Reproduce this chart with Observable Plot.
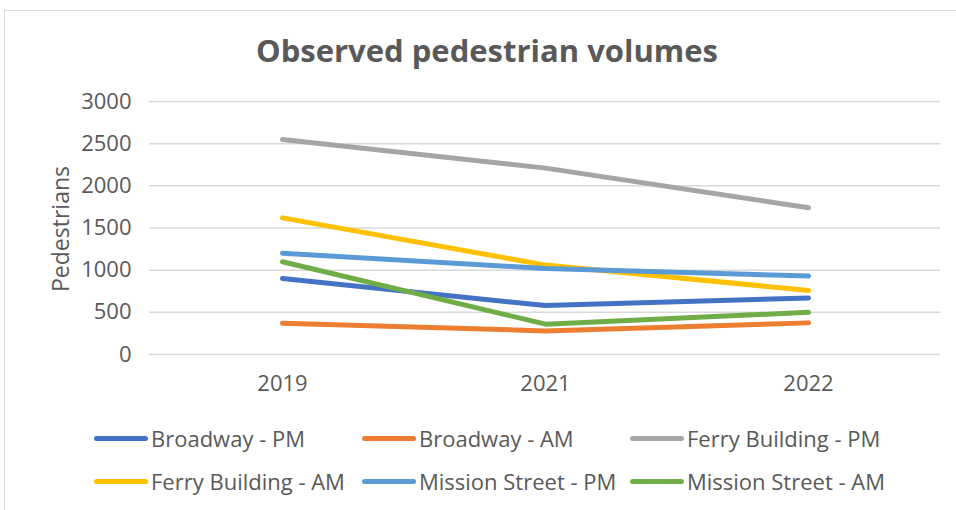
<!DOCTYPE html>
<html>
<head>
<meta charset="utf-8">
<script src="https://cdn.jsdelivr.net/npm/d3@7"></script>
<script src="https://cdn.jsdelivr.net/npm/@observablehq/plot@0.6"></script>
<style>
  html, body { margin: 0; padding: 0; background: #fff; }
  body { width: 956px; height: 510px; position: relative; overflow: hidden; font-family: "Open Sans", sans-serif; color: #595959; }
  #frame { position: absolute; left: 4px; top: 10px; width: 960px; height: 520px; border: 1px solid #d9d9d9; box-sizing: border-box; }
  #title { position: absolute; left: 0; width: 974px; top: 50px; transform: translateY(-50%); text-align: center; font-weight: bold; font-size: 31px; line-height: 1; color: #595959; }
  #ylabel { position: absolute; left: 60px; top: 229px; transform: translate(-50%, -50%) rotate(-90deg); font-size: 23px; line-height: 1; white-space: nowrap; }
  #chart { position: absolute; left: 0; top: 0; }
  #legend { position: absolute; left: 0; top: 0; }
  .item { position: absolute; display: flex; align-items: center; font-size: 22px; white-space: nowrap; height: 30px; }
  .sw { width: 54px; height: 5px; border-radius: 3px; margin-right: 3px; }
</style>
</head>
<body>
<div id="frame"></div>
<div id="chart"></div>
<div id="title">Observed pedestrian volumes</div>
<div id="ylabel">Pedestrians</div>
<div id="legend"></div>
<script>
const years = ["2019", "2021", "2022"];
const seriesNames = ["Broadway - PM", "Broadway - AM", "Ferry Building - PM", "Ferry Building - AM", "Mission Street - PM", "Mission Street - AM"];
const colors = ["#4472c4", "#ed7d31", "#a5a5a5", "#ffc000", "#5b9bd5", "#70ad47"];
const broadwayPM = [900, 580, 670];
const broadwayAM = [370, 280, 375];
const ferryPM = [2550, 2210, 1740];
const ferryAM = [1620, 1060, 760];
const missionPM = [1200, 1020, 930];
const missionAM = [1100, 360, 500];
const yTicks = [0, 500, 1000, 1500, 2000, 2500, 3000];

const allSeries = [broadwayPM, broadwayAM, ferryPM, ferryAM, missionPM, missionAM];
const data = [];
allSeries.forEach((vals, i) => vals.forEach((v, j) => data.push({series: seriesNames[i], year: years[j], value: v})));

const chart = Plot.plot({
  width: 956,
  height: 400,
  marginLeft: 149,
  marginRight: 16,
  marginTop: 101,
  marginBottom: 46,
  style: {fontFamily: "Open Sans, sans-serif", fontSize: "22px", color: "#595959", background: "transparent"},
  x: {type: "point", domain: years, padding: 0.5, label: null},
  y: {domain: [0, 3000], label: null},
  color: {domain: seriesNames, range: colors},
  marks: [
    Plot.ruleY(yTicks, {stroke: "#d9d9d9", strokeWidth: 1.5}),
    Plot.axisY({ticks: yTicks, tickFormat: d => String(d), tickSize: 0, tickPadding: 18, label: null, fill: "#595959"}),
    Plot.axisX({tickSize: 0, tickPadding: 21, label: null, fill: "#595959"}),
    Plot.line(data, {x: "year", y: "value", z: "series", stroke: "series", strokeWidth: 5, strokeLinecap: "round", strokeLinejoin: "round"})
  ]
});
document.getElementById("chart").appendChild(chart);

const legend = document.getElementById("legend");
const colX = [94, 362, 630];
const rowY = [438, 481];
seriesNames.forEach((name, i) => {
  const el = document.createElement("div");
  el.className = "item";
  el.style.left = colX[i % 3] + "px";
  el.style.top = (rowY[Math.floor(i / 3)] - 15) + "px";
  el.innerHTML = `<span class="sw" style="background:${colors[i]}"></span><span>${name}</span>`;
  legend.appendChild(el);
});
</script>
</body>
</html>
